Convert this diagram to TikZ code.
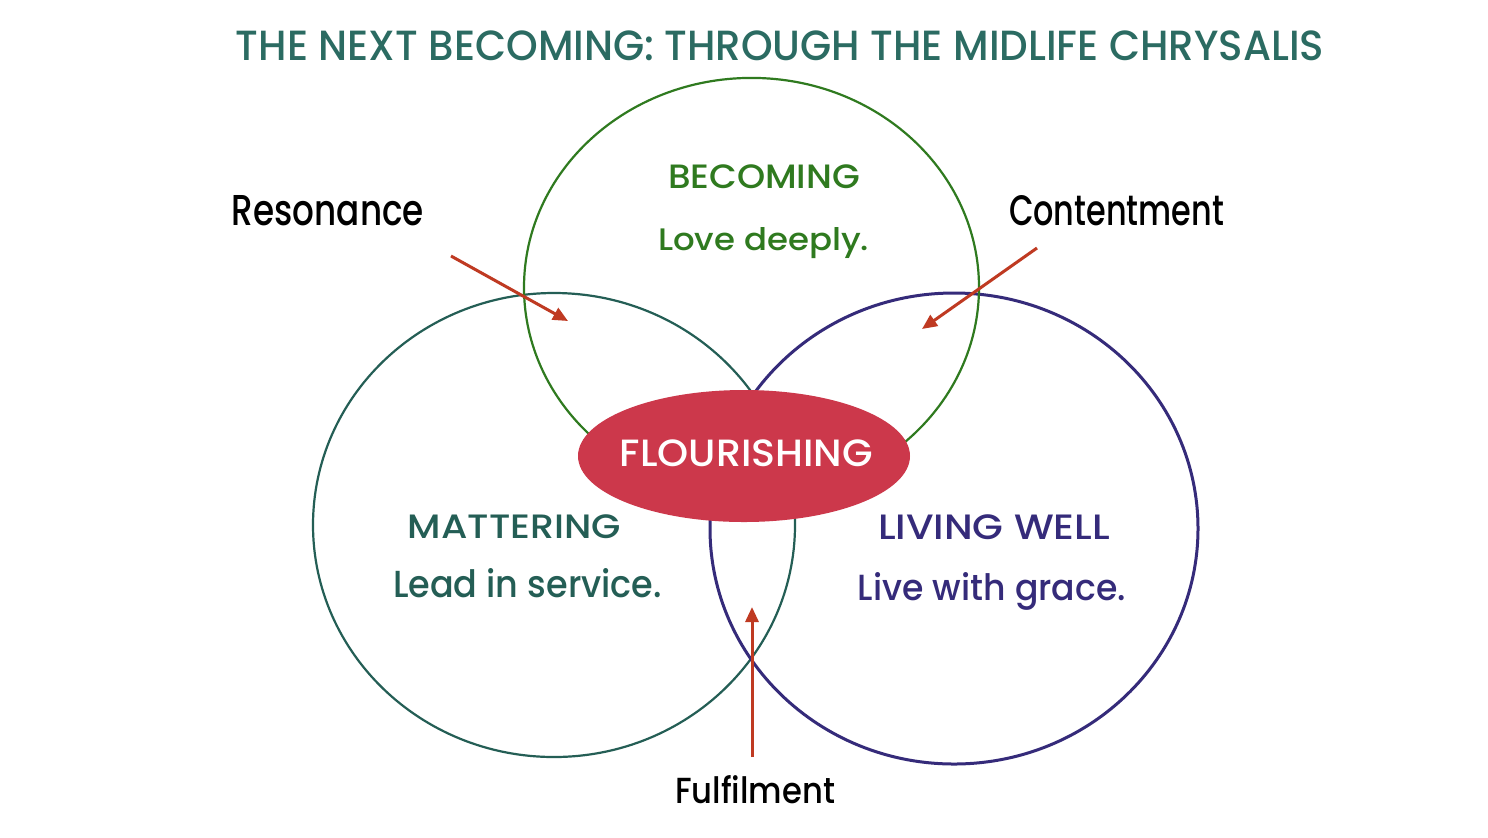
\documentclass[tikz,border=0pt]{standalone}
\usepackage{fontspec}
\usepackage{graphicx}
\setmainfont{Poppins}[UprightFont=* Medium]
\usetikzlibrary{shapes.geometric,arrows.meta}
\definecolor{titleteal}{HTML}{2B6B62}
\definecolor{becgreen}{HTML}{2F7A1F}
\definecolor{matteal}{HTML}{245E55}
\definecolor{livpurple}{HTML}{352B7A}
\definecolor{flred}{HTML}{CC384B}
\definecolor{arrowred}{HTML}{BF3A22}
% fit all-caps text to width and total height
\newcommand{\capsfit}[3]{\resizebox*{#1}{#2}{#3}}
% fit mixed text to width and height above baseline
\newcommand{\textfit}[3]{\resizebox{#1}{#2}{#3}}
\begin{document}
\begin{tikzpicture}[x=0.5pt,y=-0.5pt,
  ring/.style={ellipse, draw, inner sep=0pt, outer sep=0pt},
  lbl/.style={inner sep=0pt, outer sep=0pt},
  pointer/.style={draw=arrowred, line width=1.5pt, -{Triangle[length=7.5pt,width=6.5pt]}}]
\useasboundingbox[fill=white] (0,0) rectangle (1488,837);

% circles
\node[ring, draw=matteal, line width=1.1pt, minimum width=241pt, minimum height=232pt] (matter) at (554,525) {};
\node[ring, draw=livpurple, line width=1.5pt, minimum width=244pt, minimum height=235.5pt] (living) at (954,528.5) {};
\node[ring, draw=becgreen, line width=1.1pt, minimum width=227.5pt, minimum height=209.5pt] (becoming) at (751.5,287.4) {};

% flourishing
\node[ellipse, fill=flred, inner sep=0pt, minimum width=166pt, minimum height=66pt] (flour) at (744,456) {};

% title
\node[lbl, text=titleteal] (title) at (780,46) {\capsfit{544pt}{15pt}{THE NEXT BECOMING: THROUGH THE MIDLIFE CHRYSALIS}};

% circle texts
\node[lbl, text=becgreen] (becT) at (764,177) {\capsfit{96pt}{12pt}{BECOMING}};
\node[lbl, text=becgreen, anchor=base] (becS) at (763.5,250) {\textfit{105.5pt}{11.5pt}{Love deeply.}};
\node[lbl, text=matteal] (matT) at (514.5,527) {\capsfit{106.5pt}{12pt}{MATTERING}};
\node[lbl, text=matteal, anchor=base] (matS) at (527.5,597) {\textfit{134.5pt}{14.5pt}{Lead in service.}};
\node[lbl, text=livpurple] (livT) at (994,527.5) {\capsfit{116pt}{12.5pt}{LIVING WELL}};
\node[lbl, text=livpurple, anchor=base] (livS) at (992,600) {\textfit{134pt}{14pt}{Live with grace.}};
\node[lbl, text=white] (flT) at (746.5,453.5) {\capsfit{126.5pt}{13.5pt}{FLOURISHING}};

% outside labels
\node[lbl, anchor=base] (reso) at (328,225) {\textfit{96pt}{15pt}{Resonance}};
\node[lbl, anchor=base] (cont) at (1116.5,225) {\textfit{107.5pt}{15pt}{Contentment}};
\node[lbl, anchor=base] (fulf) at (755,803) {\textfit{80pt}{14pt}{Fulfilment}};

% arrows
\coordinate (resA) at (451,256);
\coordinate (resB) at (568,321);
\coordinate (conA) at (1037,248);
\coordinate (conB) at (922,329);
\coordinate (fulA) at (752,757);
\coordinate (fulB) at (752,607);
\draw[pointer] (resA) -- (resB);
\draw[pointer] (conA) -- (conB);
\draw[pointer] (fulA) -- (fulB);
\end{tikzpicture}
\end{document}
